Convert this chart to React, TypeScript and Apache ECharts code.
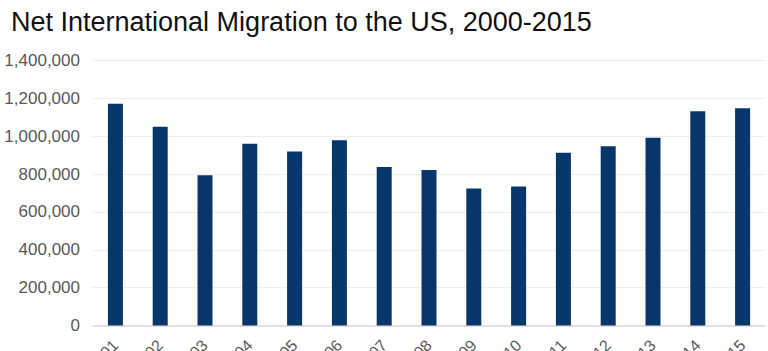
import React, { useEffect, useRef } from "react";
import * as echarts from "echarts";

const categories = [
  "2000-01", "2001-02", "2002-03", "2003-04", "2004-05", "2005-06", "2006-07", "2007-08",
  "2008-09", "2009-10", "2010-11", "2011-12", "2012-13", "2013-14", "2014-15",
];
const migration = [
  1171000, 1050000, 794000, 960000, 919000, 979000, 838000, 822000,
  724000, 734000, 912000, 947000, 992000, 1132000, 1148000,
];

export default function App() {
  const ref = useRef<HTMLDivElement>(null);
  useEffect(() => {
    document.body.style.margin = "0";
    const chart = echarts.init(ref.current!, null, { renderer: "svg" });
    chart.setOption({
      animation: false,
      backgroundColor: "#ffffff",
      title: {
        text: "Net International Migration to the US, 2000-2015",
        left: 6,
        top: 3,
        textStyle: {
          fontFamily: "Liberation Sans, Arial, sans-serif",
          fontSize: 27,
          fontWeight: "normal",
          color: "#111111",
        },
      },
      grid: {
        left: 93,
        right: 3,
        top: 60.5,
        bottom: 25.5,
        containLabel: false,
        outerBoundsMode: "none",
      },
      xAxis: {
        type: "category",
        data: categories,
        axisLine: { lineStyle: { color: "#d9d9d9", width: 1.5 } },
        axisTick: { show: false },
        axisLabel: {
          rotate: 45,
          interval: 0,
          margin: 17,
          fontFamily: "Liberation Sans, Arial, sans-serif",
          fontSize: 16,
          color: "#595959",
        },
      },
      yAxis: {
        type: "value",
        min: 0,
        max: 1400000,
        interval: 200000,
        axisLine: { show: false },
        axisTick: { show: false },
        splitLine: { lineStyle: { color: "#eeeeee", width: 1 } },
        axisLabel: {
          margin: 13,
          fontFamily: "Liberation Sans, Arial, sans-serif",
          fontSize: 17,
          color: "#595959",
          formatter: (v: number) => v.toLocaleString("en-US"),
        },
      },
      series: [
        {
          type: "bar",
          data: migration,
          barWidth: 15,
          itemStyle: { color: "#06366b" },
        },
      ],
    });
    return () => chart.dispose();
  }, []);
  return <div ref={ref} style={{ width: 768, height: 351 }} />;
}
